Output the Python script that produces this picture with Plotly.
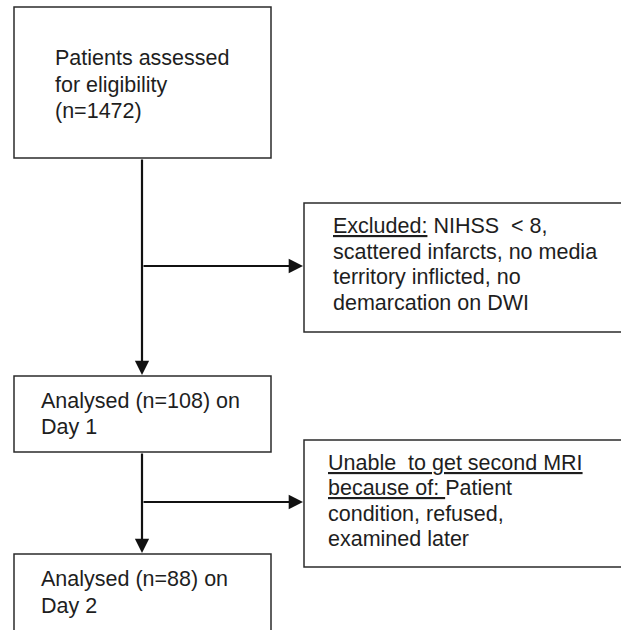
import plotly.graph_objects as go

# ---- data ----
counts = [1472, 108, 88]
box_lines = [
    ["Patients assessed", "for eligibility", f"(n={counts[0]})"],
    ["<u>Excluded:</u> NIHSS  &lt; 8,", "scattered infarcts, no media",
     "territory inflicted, no", "demarcation on DWI"],
    [f"Analysed (n={counts[1]}) on", "Day 1"],
    ["<u>Unable  to get second MRI</u>", "<u>because of: </u>Patient",
     "condition, refused,", "examined later"],
    [f"Analysed (n={counts[2]}) on", "Day 2"],
]

# ---- layout geometry (page pixels, y downward) ----
W, H = 621, 630
boxes = [  # x0, y0, x1, y1
    (14, 7, 271, 158),
    (304, 203, 640, 332),
    (14, 376, 271, 452),
    (304, 440, 640, 567),
    (14, 554, 271, 660),
]
text_pos = [  # left x, first line center y, line step
    (53, 58, 26.5),
    (331, 226, 25.5),
    (39, 401, 26),
    (326, 463, 25.3),
    (39, 579, 27),
]

fig = go.Figure()
fig.add_trace(go.Scatter(x=[100], y=[100], mode="markers", marker=dict(opacity=0),
                         showlegend=False, hoverinfo="skip"))

for (x0, y0, x1, y1) in boxes:
    fig.add_shape(type="rect", x0=x0, y0=y0, x1=x1, y1=y1,
                  line=dict(color="#2b2b2b", width=1.5), fillcolor="white", layer="below")

font = dict(family="Arial, Liberation Sans, sans-serif", size=21.5, color="#1e1e1e")
for lines, (tx, ty, step) in zip(box_lines, text_pos):
    for i, ln in enumerate(lines):
        fig.add_annotation(x=tx, y=ty + i * step, text=ln, showarrow=False,
                           xanchor="left", yanchor="middle", font=font)

cx = 142
arrows = [  # tail -> head
    ((cx, 158), (cx, 375)),
    ((cx, 266), (303, 266)),
    ((cx, 452), (cx, 553)),
    ((cx, 502), (303, 502)),
]
for (ax, ay), (hx, hy) in arrows:
    fig.add_annotation(x=hx, y=hy, ax=ax, ay=ay, xref="x", yref="y",
                       axref="x", ayref="y", text="", showarrow=True,
                       arrowhead=2, arrowsize=1.3, arrowwidth=2.2,
                       arrowcolor="#111111", standoff=0, startstandoff=0)

fig.update_xaxes(range=[0, W], visible=False, fixedrange=True)
fig.update_yaxes(range=[H, 0], visible=False, fixedrange=True)
fig.update_layout(width=W, height=H, margin=dict(l=0, r=0, t=0, b=0),
                  plot_bgcolor="white", paper_bgcolor="white", showlegend=False)

fig.write_html("out.html", config={"displayModeBar": False},
               post_script="document.body.style.margin='0';"
                           "document.body.style.overflow='hidden';")
